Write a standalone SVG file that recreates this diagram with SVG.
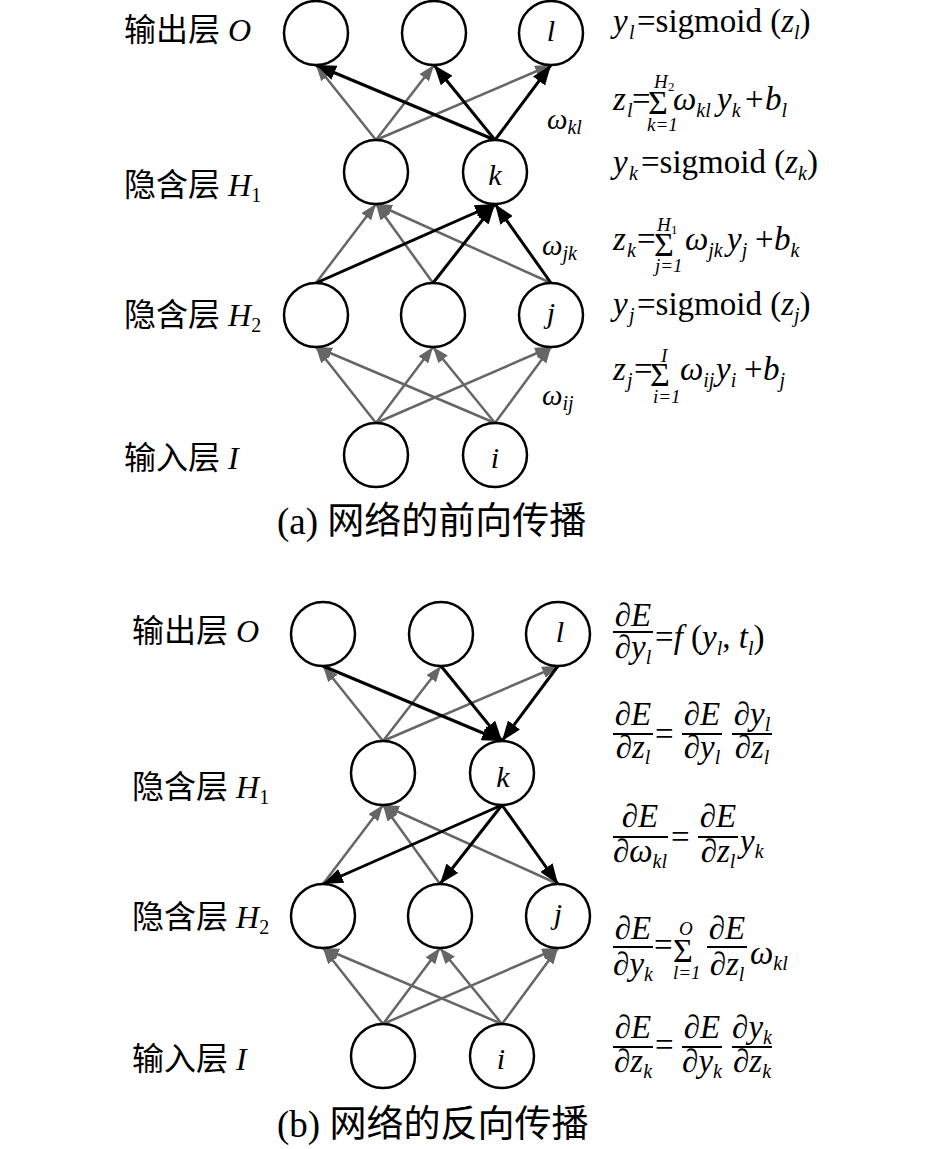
<svg xmlns="http://www.w3.org/2000/svg" width="945" height="1149" viewBox="0 0 945 1149">
<style>
.n{fill:#fff;stroke:#000;stroke-width:2.5}
.g{stroke:#666;stroke-width:2.5;fill:none;marker-end:url(#ag)}
.b{stroke:#000;stroke-width:3;fill:none;marker-end:url(#ab)}
.bar{stroke:#000;stroke-width:2}
text{font-family:"Liberation Serif","Times New Roman","Noto Sans CJK SC",serif;fill:#000}
.t{font-size:33px}
.lab{font-size:32px}
.cap{font-size:37px}
.nl{font-size:30px;font-style:italic;text-anchor:middle}
.i{font-style:italic}
.s{font-size:20px}
.s2{font-size:13px}
.lim{font-size:19px;font-style:italic}
.sum{font-size:34px}
.m{text-anchor:middle}
.cjk{font-family:"Noto Sans CJK SC","Liberation Serif",sans-serif}
</style>
<defs>
<marker id="ag" markerUnits="userSpaceOnUse" viewBox="0 0 16 12" markerWidth="16" markerHeight="12" refX="16" refY="6" orient="auto"><path d="M0,0 L16,6 L0,12 z" fill="#666"/></marker>
<marker id="ab" markerUnits="userSpaceOnUse" viewBox="0 0 20 15" markerWidth="20" markerHeight="15" refX="20" refY="7.5" orient="auto"><path d="M0,0 L20,7.5 L0,15 z" fill="#000"/></marker>
</defs>

<!-- Panel (a) -->
<g id="connectors-a">
<line class="g" x1="376" y1="423" x2="316" y2="347"/>
<line class="g" x1="376" y1="423" x2="433" y2="347"/>
<line class="g" x1="376" y1="423" x2="551" y2="347"/>
<line class="g" x1="495" y1="423" x2="316" y2="347"/>
<line class="g" x1="495" y1="423" x2="433" y2="347"/>
<line class="g" x1="495" y1="423" x2="551" y2="347"/>
<line class="g" x1="316" y1="283" x2="376" y2="204"/>
<line class="g" x1="433" y1="283" x2="376" y2="204"/>
<line class="g" x1="551" y1="283" x2="376" y2="204"/>
<line class="g" x1="376" y1="140" x2="316" y2="65"/>
<line class="g" x1="376" y1="140" x2="434" y2="65"/>
<line class="g" x1="376" y1="140" x2="551" y2="65"/>
<line class="b" x1="316" y1="283" x2="495" y2="204"/>
<line class="b" x1="433" y1="283" x2="495" y2="204"/>
<line class="b" x1="551" y1="283" x2="495" y2="204"/>
<line class="b" x1="495" y1="140" x2="316" y2="65"/>
<line class="b" x1="495" y1="140" x2="434" y2="65"/>
<line class="b" x1="495" y1="140" x2="551" y2="65"/>
</g>
<g id="a-o1"><circle class="n" cx="316" cy="33" r="32"/></g>
<g id="a-o2"><circle class="n" cx="434" cy="33" r="32"/></g>
<g id="a-o3"><circle class="n" cx="551" cy="33" r="32"/><text class="nl" x="551" y="41">l</text></g>
<g id="a-h1a"><circle class="n" cx="376" cy="172" r="32"/></g>
<g id="a-h1b"><circle class="n" cx="495" cy="172" r="32"/><text class="nl" x="495" y="185">k</text></g>
<g id="a-h2a"><circle class="n" cx="316" cy="315" r="32"/></g>
<g id="a-h2b"><circle class="n" cx="433" cy="315" r="32"/></g>
<g id="a-h2c"><circle class="n" cx="551" cy="315" r="32"/><text class="nl" x="551" y="323">j</text></g>
<g id="a-i1"><circle class="n" cx="376" cy="455" r="32"/></g>
<g id="a-i2"><circle class="n" cx="495" cy="455" r="32"/><text class="nl" x="495" y="468">i</text></g>

<!-- Panel (b) -->
<g transform="translate(7,601)">
<g id="connectors-b">
<line class="g" x1="376" y1="423" x2="316" y2="347"/>
<line class="g" x1="376" y1="423" x2="433" y2="347"/>
<line class="g" x1="376" y1="423" x2="551" y2="347"/>
<line class="g" x1="495" y1="423" x2="316" y2="347"/>
<line class="g" x1="495" y1="423" x2="433" y2="347"/>
<line class="g" x1="495" y1="423" x2="551" y2="347"/>
<line class="g" x1="316" y1="283" x2="376" y2="204"/>
<line class="g" x1="433" y1="283" x2="376" y2="204"/>
<line class="g" x1="551" y1="283" x2="376" y2="204"/>
<line class="g" x1="376" y1="140" x2="316" y2="65"/>
<line class="g" x1="376" y1="140" x2="434" y2="65"/>
<line class="g" x1="376" y1="140" x2="551" y2="65"/>
<line class="b" x1="495" y1="204" x2="316" y2="283"/>
<line class="b" x1="495" y1="204" x2="433" y2="283"/>
<line class="b" x1="495" y1="204" x2="551" y2="283"/>
<line class="b" x1="316" y1="65" x2="495" y2="140"/>
<line class="b" x1="434" y1="65" x2="495" y2="140"/>
<line class="b" x1="551" y1="65" x2="495" y2="140"/>
</g>
<g id="b-o1"><circle class="n" cx="316" cy="33" r="32"/></g>
<g id="b-o2"><circle class="n" cx="434" cy="33" r="32"/></g>
<g id="b-o3"><circle class="n" cx="551" cy="33" r="32"/><text class="nl" x="553" y="41">l</text></g>
<g id="b-h1a"><circle class="n" cx="376" cy="172" r="32"/></g>
<g id="b-h1b"><circle class="n" cx="495" cy="172" r="32"/><text class="nl" x="496" y="186">k</text></g>
<g id="b-h2a"><circle class="n" cx="316" cy="315" r="32"/></g>
<g id="b-h2b"><circle class="n" cx="433" cy="315" r="32"/></g>
<g id="b-h2c"><circle class="n" cx="551" cy="315" r="32"/><text class="nl" x="551" y="323">j</text></g>
<g id="b-i1"><circle class="n" cx="376" cy="455" r="32"/></g>
<g id="b-i2"><circle class="n" cx="495" cy="455" r="32"/><text class="nl" x="494" y="468">i</text></g>
</g>

<!-- Layer labels -->
<g id="labels">
<text class="lab" x="124" y="41"><tspan class="cjk">输出层</tspan> <tspan class="i">O</tspan></text>
<text class="lab" x="124" y="196"><tspan class="cjk">隐含层</tspan> <tspan class="i">H</tspan><tspan class="s" dy="6">1</tspan></text>
<text class="lab" x="124" y="326"><tspan class="cjk">隐含层</tspan> <tspan class="i">H</tspan><tspan class="s" dy="6">2</tspan></text>
<text class="lab" x="124" y="469"><tspan class="cjk">输入层</tspan> <tspan class="i">I</tspan></text>
<text class="lab" x="132" y="642"><tspan class="cjk">输出层</tspan> <tspan class="i">O</tspan></text>
<text class="lab" x="132" y="798"><tspan class="cjk">隐含层</tspan> <tspan class="i">H</tspan><tspan class="s" dy="6">1</tspan></text>
<text class="lab" x="132" y="928"><tspan class="cjk">隐含层</tspan> <tspan class="i">H</tspan><tspan class="s" dy="6">2</tspan></text>
<text class="lab" x="132" y="1070"><tspan class="cjk">输入层</tspan> <tspan class="i">I</tspan></text>
</g>

<!-- Weight labels -->
<g id="weights">
<text style="font-size:29px" x="547" y="129"><tspan class="i">ω</tspan><tspan class="s i" dy="5">kl</tspan></text>
<text style="font-size:29px" x="542" y="255"><tspan class="i">ω</tspan><tspan class="s i" dy="5">jk</tspan></text>
<text style="font-size:29px" x="542" y="405"><tspan class="i">ω</tspan><tspan class="s i" dy="5">ij</tspan></text>
</g>

<!-- Forward formulas -->
<g id="formulas-a">
<text class="t" x="613" y="32"><tspan class="i">y</tspan><tspan class="s i" x="629" dy="7">l</tspan><tspan x="637" dy="-7">=sigmoid (</tspan><tspan class="i">z</tspan><tspan class="s i" dy="7">l</tspan><tspan dy="-7">)</tspan></text>

<text class="t" x="613" y="110"><tspan class="i">z</tspan><tspan class="s i" x="627" dy="7">l</tspan><tspan x="632" dy="-7">=</tspan></text>
<text class="sum" x="648" y="114">Σ</text>
<text class="lim" x="654" y="88">H</text><text class="s2" x="668" y="91">2</text>
<text class="lim" x="647" y="131">k=1</text>
<text class="t" x="673" y="110"><tspan class="i">ω</tspan><tspan class="s i" dy="7">kl</tspan><tspan class="i" x="717" dy="-7">y</tspan><tspan class="s i" dy="7">k</tspan><tspan x="745" dy="-7">+</tspan><tspan class="i" x="765">b</tspan><tspan class="s i" dy="7">l</tspan></text>

<text class="t" x="613" y="173"><tspan class="i">y</tspan><tspan class="s i" x="629" dy="7">k</tspan><tspan x="641" dy="-7">=sigmoid (</tspan><tspan class="i">z</tspan><tspan class="s i" dy="7">k</tspan><tspan dy="-7">)</tspan></text>

<text class="t" x="613" y="250"><tspan class="i">z</tspan><tspan class="s i" x="627" dy="7">k</tspan><tspan x="637" dy="-7">=</tspan></text>
<text class="sum" x="654" y="256">Σ</text>
<text class="lim" x="657" y="231">H</text><text class="s2" x="671" y="234">1</text>
<text class="lim" x="655" y="272">j=1</text>
<text class="t" x="685" y="250"><tspan class="i">ω</tspan><tspan class="s i" dy="7">jk</tspan><tspan class="i" x="727" dy="-7">y</tspan><tspan class="s i" dy="7">j</tspan><tspan x="755" dy="-7">+</tspan><tspan class="i" x="774">b</tspan><tspan class="s i" dy="7">k</tspan></text>

<text class="t" x="613" y="315"><tspan class="i">y</tspan><tspan class="s i" x="629" dy="7">j</tspan><tspan x="637" dy="-7">=sigmoid (</tspan><tspan class="i">z</tspan><tspan class="s i" dy="7">j</tspan><tspan dy="-7">)</tspan></text>

<text class="t" x="613" y="380"><tspan class="i">z</tspan><tspan class="s i" x="627" dy="7">j</tspan><tspan x="634" dy="-7">=</tspan></text>
<text class="sum" x="650" y="386">Σ</text>
<text class="lim" x="661" y="362">I</text>
<text class="lim" x="653" y="403">i=1</text>
<text class="t" x="680" y="380"><tspan class="i">ω</tspan><tspan class="s i" dy="7">ij</tspan><tspan class="i" x="716" dy="-7">y</tspan><tspan class="s i" dy="7">i</tspan><tspan x="744" dy="-7">+</tspan><tspan class="i" x="763">b</tspan><tspan class="s i" dy="7">j</tspan></text>
</g>

<!-- Backward formulas -->
<g id="formulas-b">
<text class="t m" x="633" y="626">∂<tspan class="i">E</tspan></text>
<line class="bar" x1="613" y1="632" x2="653" y2="632"/>
<text class="t m" x="633" y="658">∂<tspan class="i">y</tspan><tspan class="s i" dy="6">l</tspan></text>
<text class="t" x="655" y="648">=<tspan class="i">f</tspan> (<tspan class="i">y</tspan><tspan class="s i" dy="7">l</tspan><tspan dy="-7">, </tspan><tspan class="i">t</tspan><tspan class="s i" dy="7">l</tspan><tspan dy="-7">)</tspan></text>

<text class="t m" x="633" y="725">∂<tspan class="i">E</tspan></text>
<line class="bar" x1="613" y1="734" x2="653" y2="734"/>
<text class="t m" x="633" y="758">∂<tspan class="i">z</tspan><tspan class="s i" dy="6">l</tspan></text>
<text class="t" x="655" y="745">=</text>
<text class="t m" x="702" y="725">∂<tspan class="i">E</tspan></text>
<line class="bar" x1="682" y1="734" x2="722" y2="734"/>
<text class="t m" x="702" y="758">∂<tspan class="i">y</tspan><tspan class="s i" dy="6">l</tspan></text>
<text class="t m" x="752" y="725">∂<tspan class="i">y</tspan><tspan class="s i" dy="6">l</tspan></text>
<line class="bar" x1="732" y1="734" x2="772" y2="734"/>
<text class="t m" x="752" y="758">∂<tspan class="i">z</tspan><tspan class="s i" dy="6">l</tspan></text>

<text class="t m" x="640" y="827">∂<tspan class="i">E</tspan></text>
<line class="bar" x1="613" y1="837" x2="668" y2="837"/>
<text class="t m" x="640" y="862">∂<tspan class="i">ω</tspan><tspan class="s i" dy="6">kl</tspan></text>
<text class="t" x="671" y="848">=</text>
<text class="t m" x="718" y="827">∂<tspan class="i">E</tspan></text>
<line class="bar" x1="698" y1="837" x2="738" y2="837"/>
<text class="t m" x="718" y="862">∂<tspan class="i">z</tspan><tspan class="s i" dy="6">l</tspan></text>
<text class="t" x="740" y="852"><tspan class="i">y</tspan><tspan class="s i" dy="6">k</tspan></text>

<text class="t m" x="633" y="939">∂<tspan class="i">E</tspan></text>
<line class="bar" x1="613" y1="947" x2="653" y2="947"/>
<text class="t m" x="633" y="975">∂<tspan class="i">y</tspan><tspan class="s i" dy="6">k</tspan></text>
<text class="t" x="654" y="956">=</text>
<text class="sum" x="673" y="962">Σ</text>
<text class="lim" x="679" y="935">O</text>
<text class="lim" x="673" y="979">l=1</text>
<text class="t m" x="727" y="939">∂<tspan class="i">E</tspan></text>
<line class="bar" x1="707" y1="947" x2="747" y2="947"/>
<text class="t m" x="727" y="975">∂<tspan class="i">z</tspan><tspan class="s i" dy="6">l</tspan></text>
<text class="t" x="750" y="964"><tspan class="i">ω</tspan><tspan class="s i" dy="6">kl</tspan></text>

<text class="t m" x="633" y="1038">∂<tspan class="i">E</tspan></text>
<line class="bar" x1="613" y1="1047" x2="653" y2="1047"/>
<text class="t m" x="633" y="1072">∂<tspan class="i">z</tspan><tspan class="s i" dy="6">k</tspan></text>
<text class="t" x="655" y="1056">=</text>
<text class="t m" x="702" y="1038">∂<tspan class="i">E</tspan></text>
<line class="bar" x1="682" y1="1047" x2="722" y2="1047"/>
<text class="t m" x="702" y="1072">∂<tspan class="i">y</tspan><tspan class="s i" dy="6">k</tspan></text>
<text class="t m" x="752" y="1038">∂<tspan class="i">y</tspan><tspan class="s i" dy="6">k</tspan></text>
<line class="bar" x1="732" y1="1047" x2="772" y2="1047"/>
<text class="t m" x="752" y="1072">∂<tspan class="i">z</tspan><tspan class="s i" dy="6">k</tspan></text>
</g>

<!-- Captions -->
<g id="captions">
<text class="cap" x="277" y="534">(a) <tspan class="cjk">网络的前向传播</tspan></text>
<text class="cap" x="277" y="1137">(b) <tspan class="cjk">网络的反向传播</tspan></text>
</g>
</svg>
